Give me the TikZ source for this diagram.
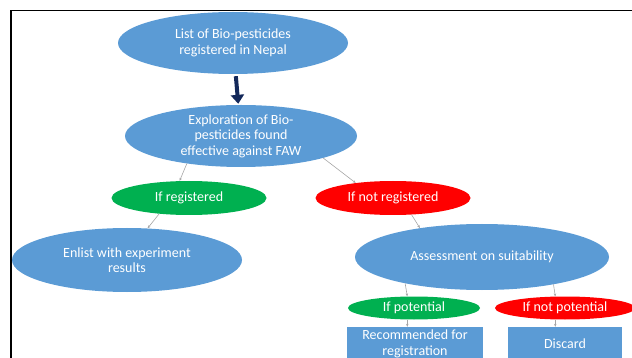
\documentclass[tikz,border=0pt]{standalone}
\usepackage{fontspec}
\setmainfont{Carlito}
\usepackage{tikz}
\usepackage{xcolor}
\usetikzlibrary{shapes.geometric,arrows.meta}
\definecolor{officeblue}{HTML}{5B9BD5}
\definecolor{officegreen}{HTML}{00B050}
\definecolor{officered}{HTML}{FF0000}
\definecolor{darknavy}{HTML}{13285A}
\newcommand{\ovalcolor}{officeblue}
\newcommand{\yescolor}{officegreen}
\newcommand{\nocolor}{officered}
\newcommand{\linkcolor}{black!35!white}

\begin{document}
\begin{tikzpicture}[x=1pt, y=-1pt, >=stealth,
    every node/.style={text=white, font=\fontsize{14}{15.5}\selectfont, align=center, inner sep=0pt},
    oval/.style={ellipse, fill=\ovalcolor, minimum width=230pt, minimum height=62pt},
    choice/.style={ellipse, minimum width=155pt, minimum height=34pt},
    outcome/.style={rectangle, fill=\ovalcolor, minimum height=34pt},
    link/.style={draw=\linkcolor, line width=0.6pt, -{Stealth[length=3pt,width=2.5pt]}}]
    \useasboundingbox (0, 0) rectangle (632, 358);
    \clip (0, 0) rectangle (632, 358);

    % frame
    \draw[line width=1.6pt] (11, 360) -- (11, 10.5) -- (634, 10.5);

    % nodes
    \node [oval] (list) at (233, 43) {List of Bio-pesticides\\registered in Nepal};
    \node [oval, minimum width=232pt] (explore) at (241, 136) {Exploration of Bio-\\pesticides found\\effective against FAW};
    \node [choice, fill=\yescolor] (reg) at (189, 198) {If registered};
    \node [choice, fill=\nocolor] (notreg) at (393, 198) {If not registered};
    \node [oval, minimum height=64pt] (enlist) at (127, 260) {Enlist with experiment\\results};
    \node [oval, minimum width=254pt, minimum height=66pt] (assess) at (482, 257) {Assessment on suitability};
    \node [choice, fill=\yescolor, minimum width=132pt, minimum height=23pt] (pot) at (414, 308) {If potential};
    \node [choice, fill=\nocolor, minimum width=140pt, minimum height=23pt] (notpot) at (565, 308) {If not potential};
    \node [outcome, minimum width=136pt] (recommend) at (415, 344) {Recommended for\\registration};
    \node [outcome, minimum width=114pt] (discard) at (565, 344) {Discard};

    % thick arrow
    \draw [-{Triangle[length=9pt, width=13pt]}, line width=4pt, darknavy, shorten <=2pt, shorten >=1pt] (list) -- (explore);

    % connectors
    \draw [link] (explore.207) -- (reg.119);
    \draw [link] (explore.345) -- (notreg.158);
    \draw [link] (reg.208) -- (enlist.57);
    \draw [link] (notreg.318) -- (assess.155);
    \draw [link] (assess.199) -- (pot.120);
    \draw [link] (assess.339) -- (notpot.130);
    \draw [link] (pot.240) -- (pot.240 |- recommend.north);
    \draw [link] (notpot.230) -- (notpot.230 |- discard.north);
\end{tikzpicture}
\end{document}
